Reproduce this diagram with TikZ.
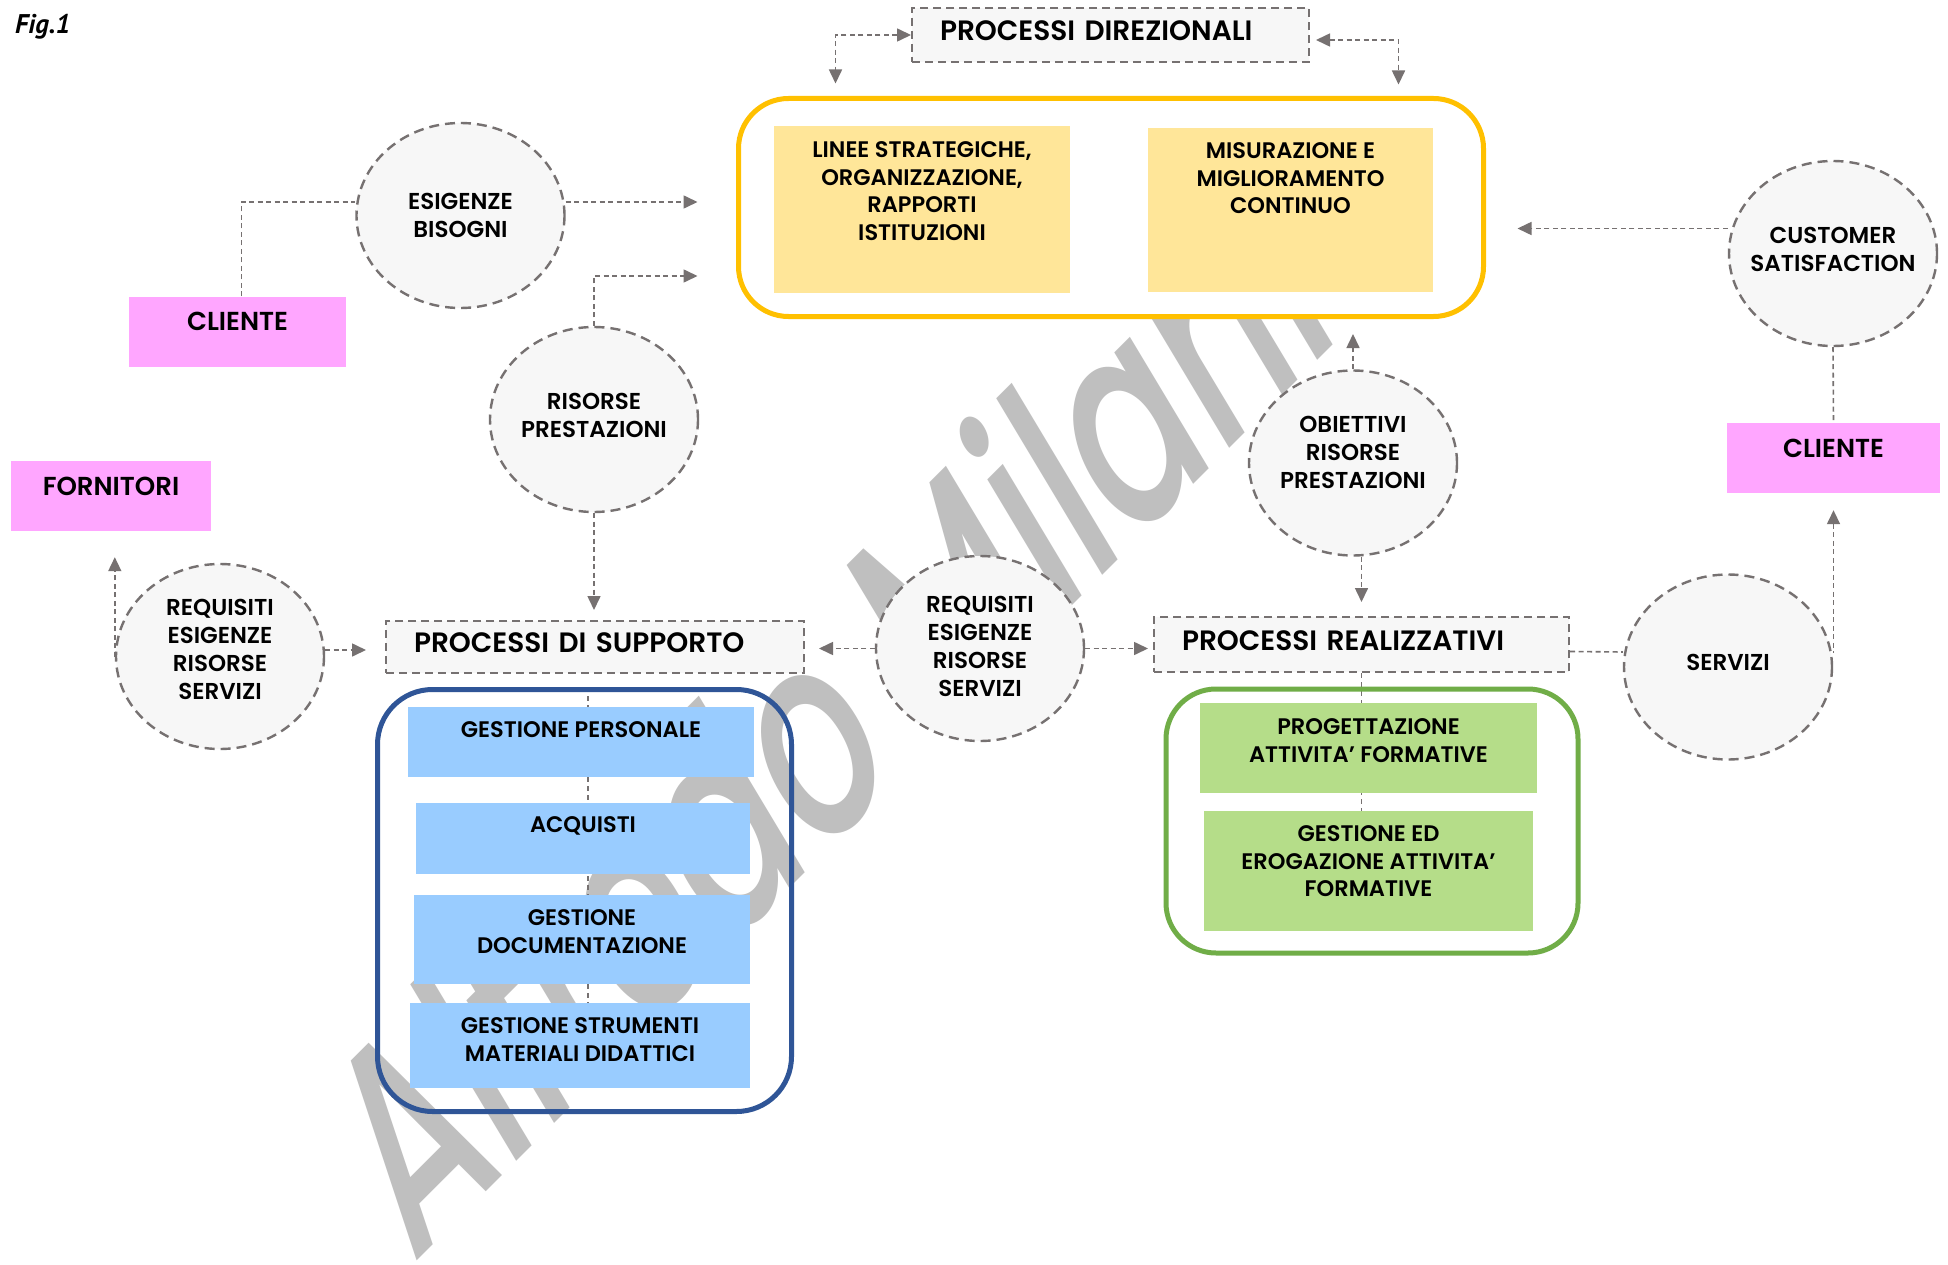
\documentclass[tikz,border=0pt]{standalone}
\usepackage{fontspec}
\setmainfont{Poppins}[BoldFont={* SemiBold}]
\newfontfamily\figfont{PT Sans}
\newfontfamily\wmfont{Poppins Medium}
\usetikzlibrary{positioning,arrows.meta,shapes.geometric,backgrounds}

\definecolor{linkgray}{RGB}{118,113,113}
\definecolor{bubblefill}{RGB}{247,247,247}
\definecolor{pinkfill}{RGB}{255,166,255}
\definecolor{yellowfill}{RGB}{255,230,153}
\definecolor{bluefill}{RGB}{153,204,255}
\definecolor{greenfill}{RGB}{181,221,137}
\definecolor{yellowframe}{RGB}{255,192,0}
\definecolor{blueframe}{RGB}{47,85,151}
\definecolor{greenframe}{RGB}{112,173,71}
\definecolor{wmgray}{RGB}{191,191,191}

\tikzset{
  bubble/.style={ellipse, draw=linkgray, fill=bubblefill, line width=2.4pt,
    dash pattern=on 10pt off 6pt, minimum width=208pt, minimum height=185pt},
  bubbletext/.style={inner sep=0pt, align=center,
    font=\bfseries\fontsize{23}{28}\selectfont},
  procbox/.style={draw=linkgray, fill=bubblefill, line width=2pt,
    dash pattern=on 8pt off 5pt, minimum height=54pt, inner xsep=28pt,
    align=left, text height=20pt, text depth=9pt,
    font=\bfseries\fontsize{28}{32}\selectfont},
  actor/.style={fill=pinkfill, minimum height=70pt, text height=19pt,
    text depth=21pt, font=\bfseries\fontsize{26}{30}\selectfont},
  groupframe/.style={line width=5pt, rounded corners=50pt},
  ytask/.style={fill=yellowfill, inner sep=0pt},
  btask/.style={fill=bluefill, inner sep=0pt},
  gtask/.style={fill=greenfill, inner sep=0pt},
  boxtext/.style={inner sep=0pt, align=center,
    font=\bfseries\fontsize{22.5}{27.5}\selectfont},
  link/.style={draw=linkgray, line width=1.6pt, dash pattern=on 5pt off 3.5pt},
  thinlink/.style={draw=linkgray, line width=1.1pt, dash pattern=on 5pt off 4pt},
  wmark/.style={inner sep=0pt, text=wmgray, font=\wmfont\fontsize{270}{270}\selectfont}
}

\begin{document}
\begin{tikzpicture}[x=1pt, y=-1pt, >={Triangle[length=14pt, width=13pt]}]
  \useasboundingbox (0,0) rectangle (1948,1265);

  \node[anchor=north west, inner sep=0pt,
    font=\figfont\bfseries\itshape\fontsize{27}{27}\selectfont] (fig) at (15,14) {Fig.1};

  % processi direzionali
  \node[procbox, text width=341pt] (procdir) at (1110.5,35) {PROCESSI DIREZIONALI};
  \node[groupframe, draw=yellowframe, fill=white, minimum width=745pt, minimum height=218pt] (dirframe) at (1111,207.5) {};
  \node[ytask, minimum width=296pt, minimum height=167pt] (linee) at (922,209.5) {};
  \node[boxtext, below=16pt of linee.north] (lineetxt) {LINEE STRATEGICHE,\\ORGANIZZAZIONE,\\RAPPORTI\\ISTITUZIONI};
  \node[ytask, minimum width=285pt, minimum height=164pt] (misur) at (1290.5,210) {};
  \node[boxtext, below=15pt of misur.north] (misurtxt) {MISURAZIONE E\\MIGLIORAMENTO\\CONTINUO};

  % clienti, fornitori
  \node[actor, minimum width=217pt] (clienteL) at (237.5,331.5) {CLIENTE};
  \node[actor, minimum width=200pt] (fornitori) at (111,496) {FORNITORI};
  \node[actor, minimum width=213pt] (clienteR) at (1833.5,458) {CLIENTE};

  % flussi
  \node[bubble] (esig) at (460.5,215.5) {};
  \node[bubbletext] (esigtxt) at (esig.center) {ESIGENZE\\BISOGNI};
  \node[bubble] (risorse) at (594,419.5) {};
  \node[bubbletext] (risorsetxt) at ([yshift=4pt]risorse.center) {RISORSE\\PRESTAZIONI};
  \node[bubble] (reqL) at (220,656.5) {};
  \node[bubbletext] (reqLtxt) at ([yshift=7.5pt]reqL.center) {REQUISITI\\ESIGENZE\\RISORSE\\SERVIZI};
  \node[bubble] (reqM) at (980,648.5) {};
  \node[bubbletext] (reqMtxt) at ([yshift=2.5pt]reqM.center) {REQUISITI\\ESIGENZE\\RISORSE\\SERVIZI};
  \node[bubble] (obiett) at (1353,463) {};
  \node[bubbletext] (obietttxt) at ([yshift=11pt]obiett.center) {OBIETTIVI\\RISORSE\\PRESTAZIONI};
  \node[bubble] (servizi) at (1728,667) {};
  \node[bubbletext] (servizitxt) at ([yshift=5pt]servizi.center) {SERVIZI};
  \node[bubble] (customer) at (1833,253.5) {};
  \node[bubbletext] (customertxt) at ([yshift=4pt]customer.center) {CUSTOMER\\SATISFACTION};

  % processi di supporto
  \node[procbox, text width=362pt, minimum height=52pt] (procsup) at (595,647) {PROCESSI DI SUPPORTO};
  \node[groupframe, draw=blueframe, minimum width=414pt, minimum height=422pt, rounded corners=55pt] (supframe) at (584.5,900.5) {};
  \node[btask, minimum width=346pt, minimum height=70pt] (gestpers) at (581,742) {};
  \node[boxtext, below=15pt of gestpers.north] (gestperstxt) {GESTIONE PERSONALE};
  \node[btask, minimum width=334pt, minimum height=71pt] (acquisti) at (583,838.5) {};
  \node[boxtext, below=14pt of acquisti.north] (acquistitxt) {ACQUISTI};
  \node[btask, minimum width=336pt, minimum height=89pt] (gestdoc) at (582,939.5) {};
  \node[boxtext, below=15pt of gestdoc.north] (gestdoctxt) {GESTIONE\\DOCUMENTAZIONE};
  \node[btask, minimum width=340pt, minimum height=85pt] (gestrum) at (580,1045.5) {};
  \node[boxtext, below=15pt of gestrum.north] (gestrumtxt) {GESTIONE STRUMENTI\\MATERIALI DIDATTICI};

  % processi realizzativi
  \node[procbox, text width=359pt, minimum height=55pt] (procreal) at (1361.5,644.5) {PROCESSI REALIZZATIVI};
  \node[groupframe, draw=greenframe, minimum width=412pt, minimum height=264pt] (realframe) at (1372,821) {};
  \node[gtask, minimum width=337pt, minimum height=90pt] (progett) at (1368.5,748) {};
  \node[boxtext, below=16pt of progett.north] (progetttxt) {PROGETTAZIONE\\ATTIVITA’ FORMATIVE};
  \node[gtask, minimum width=329pt, minimum height=120pt] (erogaz) at (1368.5,871) {};
  \node[boxtext, below=15pt of erogaz.north] (erogaztxt) {GESTIONE ED\\EROGAZIONE ATTIVITA’\\FORMATIVE};

  \begin{pgfonlayer}{background}
    \fill[white] (0,0) rectangle (1948,1265);
    \node[wmark, rotate=45, xslant=0.25, xscale=0.71, anchor=base west] (wm) at (412,1266) {Alfredo Milani};

    % collegamenti
    \draw[link, <->] (procdir.west) -| ([xshift=99.5pt, yshift=12.5pt]dirframe.north west);
    \draw[link, <->] ([xshift=6pt, yshift=-5pt]procdir.east) -| ([xshift=-87.5pt, yshift=11.5pt]dirframe.north east);
    \draw[link] ([xshift=4pt]clienteL.north) |- ([yshift=13.5pt]esig.west);
    \draw[link, ->, shorten >=38.5pt] ([yshift=13.5pt]esig.east) -- ([yshift=5.5pt]dirframe.west);
    \draw[link, ->, shorten >=38.5pt] (risorse.north) |- ([yshift=-68.5pt]dirframe.west);
    \draw[link, ->, shorten >=10pt] (risorse.south) -- (risorse.south |- procsup.north);
    \draw[link, ->, shorten >=26pt] (reqL.west) -- (reqL.west |- fornitori.south);
    \draw[link, ->, shorten >=19pt] ([yshift=6.5pt]reqL.east) -- ([yshift=-3pt]procsup.west);
    \draw[link, ->, shorten >=14pt] (reqM.west) -- ([yshift=-1.5pt]procsup.east);
    \draw[link, ->, shorten >=5pt] (reqM.east) -- ([yshift=-4pt]procreal.west);
    \draw[link, ->, shorten >=15pt] (obiett.north) -- (obiett.north |- dirframe.south);
    \draw[link, ->, shorten >=14pt] (obiett.south -| procreal.north) -- (procreal.north);
    \draw[link] ([yshift=-7pt]procreal.east) -- ([yshift=15pt]servizi.west);
    \draw[link, <-, shorten <=17pt] (clienteR.south) -- ++(0,160);
    \draw[link] (customer.south) -- (clienteR.north);
    \draw[link, ->, shorten >=31.5pt] ([yshift=25pt]customer.west) -- ([yshift=-21pt]dirframe.east);
    \draw[thinlink] ([xshift=3.5pt]supframe.north) -- ([xshift=8pt]gestrum.north);
    \draw[thinlink] (procreal.south) -- (procreal.south |- erogaz.north);
  \end{pgfonlayer}
\end{tikzpicture}
\end{document}
